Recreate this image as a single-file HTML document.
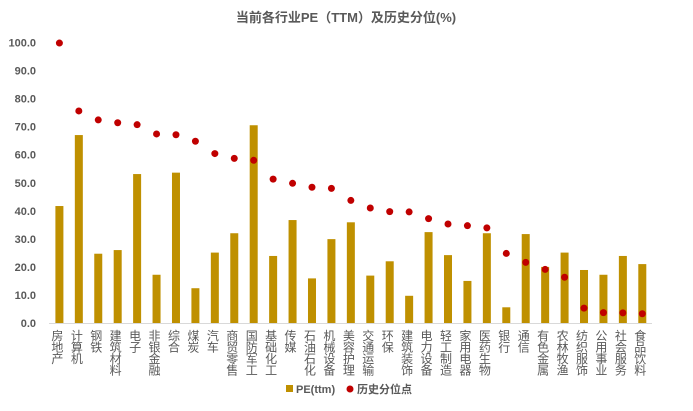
<!DOCTYPE html>
<html><head><meta charset="utf-8"><style>
html,body{margin:0;padding:0;background:#fff;}
svg text{font-family:"Liberation Sans","Noto Sans CJK SC",sans-serif;fill:#595959;}
</style></head><body>
<svg width="693" height="406" viewBox="0 0 693 406" xmlns="http://www.w3.org/2000/svg">
<text x="346" y="22" text-anchor="middle" font-size="13" font-weight="bold">当前各行业PE（TTM）及历史分位(%)</text>
<g font-size="11" font-weight="bold" text-anchor="end" id="yl"></g>
<line x1="49" y1="323.5" x2="652" y2="323.5" stroke="#d9d9d9" stroke-width="1"/>
<g id="bars"></g><g id="dots"></g><g id="cats" font-size="12" text-anchor="middle"></g>
<rect x="286" y="385" width="7" height="7" fill="#bf9000"/>
<text x="296" y="393" font-size="11" font-weight="bold">PE(ttm)</text>
<circle cx="350" cy="389" r="3.5" fill="#c00000"/>
<text x="357" y="393" font-size="11" font-weight="bold">历史分位点</text>
</svg>
<script>
var names=["房地产","计算机","钢铁","建筑材料","电子","非银金融","综合","煤炭","汽车","商贸零售","国防军工","基础化工","传媒","石油石化","机械设备","美容护理","交通运输","环保","建筑装饰","电力设备","轻工制造","家用电器","医药生物","银行","通信","有色金属","农林牧渔","纺织服饰","公用事业","社会服务","食品饮料"];
var pe=[41.7,67,24.7,26,53.1,17.2,53.6,12.4,25.1,32,70.5,23.9,36.7,15.9,29.9,35.9,16.9,22,9.7,32.4,24.2,15,32,5.6,31.7,20,25.1,18.9,17.2,23.9,21];
var pc=[99.8,75.6,72.4,71.4,70.7,67.4,67.1,64.8,60.4,58.7,58,51.3,49.8,48.4,48,43.7,41,39.7,39.6,37.2,35.3,34.7,33.9,24.8,21.6,19.1,16.3,5.3,3.7,3.6,3.3];
var ns="http://www.w3.org/2000/svg";
function el(t,a,p,txt){var e=document.createElementNS(ns,t);for(var k in a)e.setAttribute(k,a[k]);if(txt)e.textContent=txt;document.getElementById(p).appendChild(e);}
var y0=323,k=2.805;
for(var i=0;i<=10;i++){el("text",{x:36,y:y0-i*10*k+4},"yl",(i*10).toFixed(1));}
for(var i=0;i<31;i++){var cx=59.4+i*19.43;var h=pe[i]*k;
el("rect",{x:cx-4,y:y0-h,width:8,height:h,fill:"#bf9000"},"bars");
el("circle",{cx:cx,cy:y0-pc[i]*k,r:3.5,fill:"#c00000"},"dots");
var n=names[i];for(var j=0;j<n.length;j++)el("text",{x:cx-2,y:340+j*11.5},"cats",n[j]);}
</script>
</body></html>
